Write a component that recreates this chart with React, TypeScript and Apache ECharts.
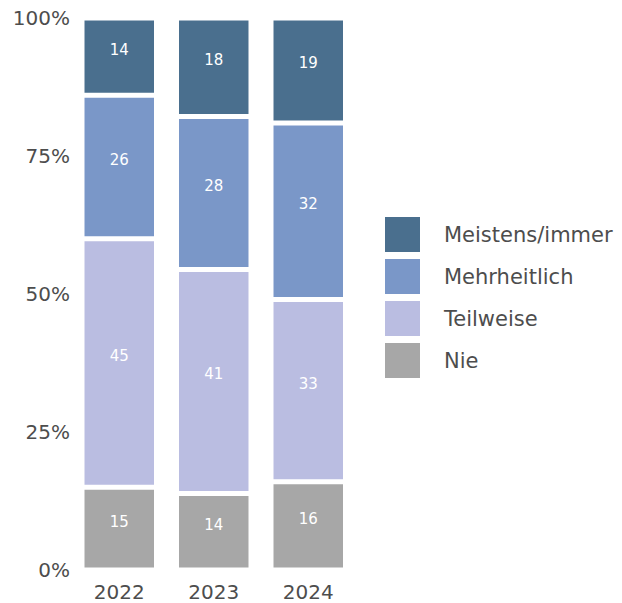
import React, { useEffect, useRef } from "react";
import * as echarts from "echarts";

const years = ["2022", "2023", "2024"];
const seriesNames = ["Nie", "Teilweise", "Mehrheitlich", "Meistens/immer"];
const nie = [15, 14, 16];
const teilweise = [45, 41, 33];
const mehrheitlich = [26, 28, 32];
const meistens = [14, 18, 19];
const yTicks = [0, 25, 50, 75, 100];
const colors = ["#a7a7a7", "#babde1", "#7a97c8", "#4a6f8e"];

export default function App() {
  const ref = useRef<HTMLDivElement>(null);
  useEffect(() => {
    if (!ref.current) return;
    const chart = echarts.init(ref.current, null, { renderer: "svg" });
    const raw = [nie, teilweise, mehrheitlich, meistens];
    const totals = years.map((_, i) => raw.reduce((s, arr) => s + arr[i], 0));
    const font = "DejaVu Sans";
    chart.setOption({
      animation: false,
      grid: { left: 72, top: 18, width: 283.5, bottom: 33, containLabel: false },
      xAxis: {
        type: "category",
        data: years,
        axisLine: { show: false },
        axisTick: { show: false },
        axisLabel: { fontFamily: font, fontSize: 20, color: "#4d4d4d", margin: 12 },
      },
      yAxis: {
        type: "value",
        min: 0,
        max: 100,
        interval: 25,
        splitLine: { show: false },
        axisLine: { show: false },
        axisTick: { show: false },
        axisLabel: {
          fontFamily: font,
          fontSize: 20,
          color: "#4d4d4d",
          margin: 2,
          formatter: (v: number) => (yTicks.includes(v) ? v + "%" : ""),
        },
      },
      legend: {
        orient: "vertical",
        left: 380,
        top: 212,
        itemWidth: 35,
        itemHeight: 35,
        itemGap: 7,
        icon: "rect",
        data: ["Meistens/immer", "Mehrheitlich", "Teilweise", "Nie"],
        itemStyle: { borderWidth: 0 },
        textStyle: { fontFamily: font, fontSize: 21, color: "#4d4d4d", padding: [0, 0, 0, 19] },
      },
      series: seriesNames.map((name, si) => ({
        name,
        type: "bar",
        stack: "total",
        barWidth: 74.5,
        itemStyle: { color: colors[si], borderColor: "#ffffff", borderWidth: 2.5 },
        label: {
          show: true,
          position: "inside",
          offset: [0, -7],
          fontFamily: font,
          fontSize: 15,
          color: "#ffffff",
          formatter: (p: any) => String(raw[si][p.dataIndex]),
        },
        data: raw[si].map((v, i) => (v / totals[i]) * 100),
      })),
    });
    return () => chart.dispose();
  }, []);
  return (
    <div
      ref={ref}
      style={{ position: "fixed", left: 0, top: 0, width: 622, height: 603, background: "#fff" }}
    />
  );
}
